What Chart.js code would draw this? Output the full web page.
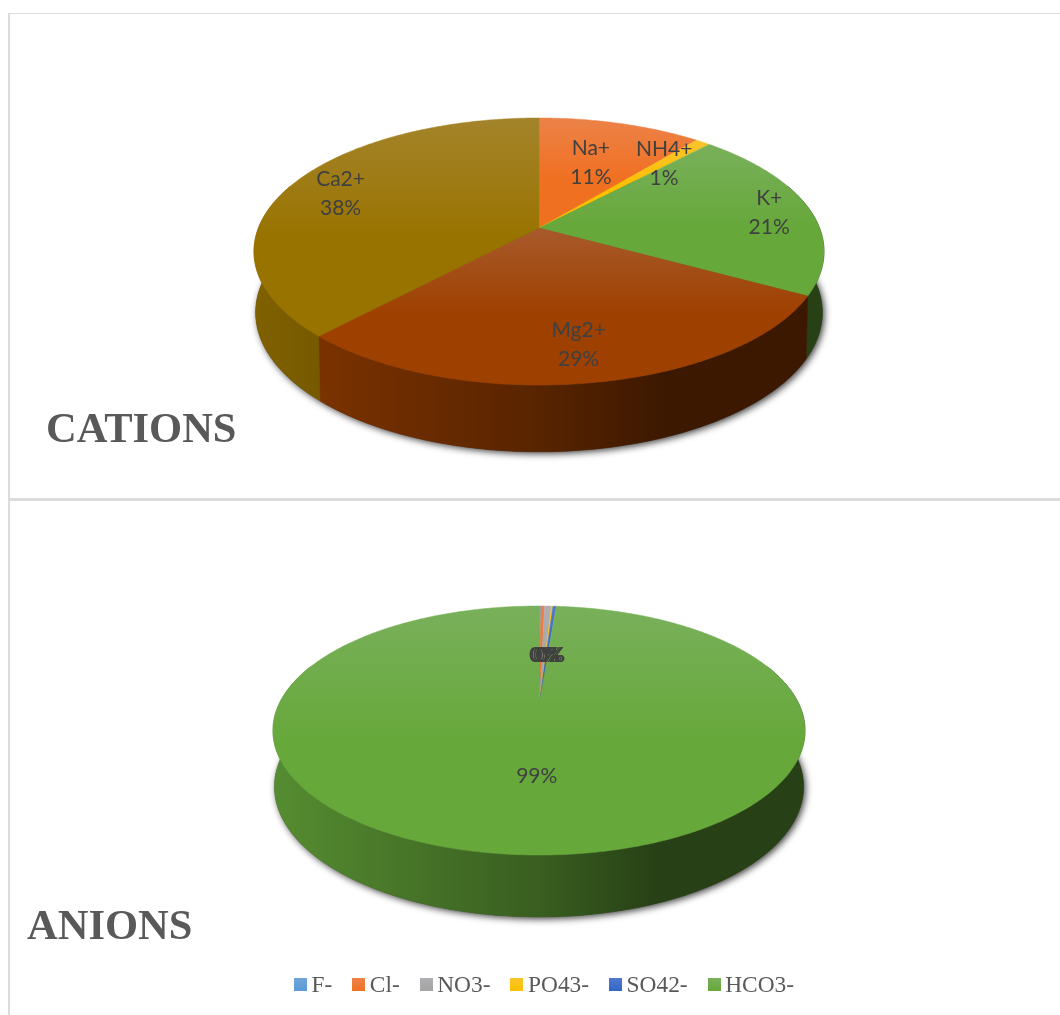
<!DOCTYPE html>
<html>
<head>
<meta charset="utf-8">
<title>Cations et anions</title>
<script src="https://cdn.jsdelivr.net/npm/chart.js@4"></script>
<style>
  html, body { margin: 0; padding: 0; background: #fff; width: 1060px; height: 1015px; overflow: hidden; }
  canvas { position: absolute; }
  .trait { position: absolute; background: #dcdcdc; }
  #legende { position: absolute; left: 294px; top: 970px; display: flex; gap: 20px; white-space: nowrap;
    font: 23.4px "Liberation Serif", serif; color: #595959; line-height: 28px; }
  #legende span { display: flex; align-items: center; }
  #legende i { display: block; width: 13px; height: 13px; margin-right: 4.5px; }
</style>
</head>
<body>
<div class="trait" style="left:8px;top:13px;width:1052px;height:1px"></div>
<div class="trait" style="left:8px;top:13px;width:2px;height:1002px"></div>
<div class="trait" style="left:8px;top:498px;width:1052px;height:3px"></div>
<canvas id="cations" width="1050" height="482" style="left:10px;top:15px"></canvas>
<canvas id="anions" width="1050" height="514" style="left:10px;top:501px"></canvas>
<div id="legende"></div>

<script>
// donnees
const cationLabels = ["Na+", "NH4+", "K+", "Mg2+", "Ca2+"];
const cationValues = [11, 1, 21, 29, 38];
const cationColors = ["#F07022", "#FFC000", "#66A83A", "#9E4000", "#997300"];

const anionLabels = ["F-", "Cl-", "NO3-", "PO43-", "SO42-", "HCO3-"];
const anionValues = [0.15, 0.27, 0.49, 0.12, 0.25, 98.72];
const anionColors = ["#5B9BD5", "#F07022", "#A5A5A5", "#FFC000", "#3366C4", "#66A83A"];

function hexToRgb(hex) {
  return [parseInt(hex.slice(1, 3), 16), parseInt(hex.slice(3, 5), 16), parseInt(hex.slice(5, 7), 16)];
}
function shade(hex, f) {
  const c = hexToRgb(hex);
  return "rgb(" + c.map(v => Math.round(v * f)).join(",") + ")";
}
// reflet du haut des faces, un peu froid comme dans l'original
function lighten(hex, a) {
  const c = hexToRgb(hex);
  const cible = [215, 215, 255];
  return "rgb(" + c.map((v, i) => Math.round(v + (cible[i] - v) * a)).join(",") + ")";
}

// projection en perspective d'un point du disque sur la toile
function project(g, th, f) {
  const d = 1 - g.k * f * Math.sin(th);
  return { x: g.cx + g.rx * f * Math.cos(th) / d, y: g.cy + g.ry * f * Math.sin(th) / d };
}
function rim(g, from, to) {
  const pts = [];
  const n = Math.max(2, Math.ceil(Math.abs(to - from) / 0.01));
  for (let i = 0; i <= n; i++) pts.push(project(g, from + (to - from) * i / n, 1));
  return pts;
}
function tracePath(ctx, pts) {
  ctx.beginPath();
  pts.forEach((p, i) => { if (i === 0) ctx.moveTo(p.x, p.y); else ctx.lineTo(p.x, p.y); });
  ctx.closePath();
}

// dessine le camembert 3D a partir des angles calcules par Chart.js
const pie3d = {
  id: "pie3d",
  beforeDatasetsDraw(chart, args, opts) {
    const ctx = chart.ctx;
    const arcs = chart.getDatasetMeta(0).data;
    const ds = chart.data.datasets[0];
    const top = opts.top, low = opts.low;
    const total = ds.data.reduce((a, b) => a + b, 0);
    const left = top.cx - top.rx - 10, right = top.cx + top.rx + 10;

    // ombre sous le disque
    ctx.save();
    ctx.shadowColor = "rgba(0,0,0,0.75)";
    ctx.shadowBlur = 7;
    ctx.shadowOffsetX = 2;
    ctx.shadowOffsetY = 2;
    ctx.fillStyle = "#444";
    tracePath(ctx, rim(low, 0, Math.PI * 2));
    ctx.fill();
    ctx.restore();

    // tranche : uniquement la moitie visible
    const a0 = -0.35, a1 = Math.PI + 0.35;
    arcs.forEach((arc, i) => {
      [-2, 0, 2].forEach(turn => {
        const from = Math.max(arc.startAngle + turn * Math.PI, a0);
        const to = Math.min(arc.endAngle + turn * Math.PI, a1);
        if (to <= from) return;
        const pts = rim(top, from, to).concat(rim(low, to, from));
        const grad = ctx.createLinearGradient(left, 0, right, 0);
        const col = ds.backgroundColor[i];
        grad.addColorStop(0, shade(col, 0.84));
        grad.addColorStop(0.5, shade(col, 0.56));
        grad.addColorStop(0.72, shade(col, 0.38));
        grad.addColorStop(1, shade(col, 0.38));
        ctx.fillStyle = grad;
        ctx.strokeStyle = grad;
        ctx.lineWidth = 0.5;
        tracePath(ctx, pts);
        ctx.fill();
        ctx.stroke();
      });
    });

    // face superieure
    arcs.forEach((arc, i) => {
      const pts = [{ x: top.cx, y: top.cy }].concat(rim(top, arc.startAngle, arc.endAngle));
      const ys = pts.map(p => p.y);
      const grad = ctx.createLinearGradient(0, Math.min(...ys), 0, Math.max(...ys));
      const col = ds.backgroundColor[i];
      grad.addColorStop(0, lighten(col, 0.17));
      grad.addColorStop(0.55, col);
      grad.addColorStop(1, col);
      ctx.fillStyle = grad;
      ctx.strokeStyle = grad;
      ctx.lineWidth = 0.5;
      tracePath(ctx, pts);
      ctx.fill();
      ctx.stroke();
    });

    // etiquettes
    ctx.save();
    ctx.font = '21px Lato, sans-serif';
    ctx.fillStyle = "#404040";
    ctx.textAlign = "center";
    ctx.textBaseline = "middle";
    arcs.forEach((arc, i) => {
      const mid = (arc.startAngle + arc.endAngle) / 2;
      const p = project(top, mid, opts.labelRadius[i]);
      const pct = Math.round(ds.data[i] / total * 100) + "%";
      if (opts.showName) {
        ctx.fillText(chart.data.labels[i], p.x + opts.labelDx, p.y - 13);
        ctx.fillText(pct, p.x + opts.labelDx, p.y + 16);
      } else {
        ctx.fillText(pct, p.x + opts.labelDx, p.y);
      }
    });
    ctx.restore();
    return false;
  }
};

function makePie(id, labels, values, colors, title, titleLeft, titleBottom, pieOpts) {
  new Chart(document.getElementById(id), {
    type: "pie",
    data: { labels: labels, datasets: [{ data: values, backgroundColor: colors, borderWidth: 0 }] },
    plugins: [pie3d],
    options: {
      responsive: false,
      animation: false,
      layout: { padding: { left: titleLeft } },
      plugins: {
        legend: { display: false },
        tooltip: { enabled: false },
        title: {
          display: true,
          text: title,
          position: "bottom",
          align: "start",
          color: "#595959",
          font: { family: '"Liberation Serif", serif', size: 42.5, weight: "bold" },
          padding: { top: 0, bottom: titleBottom }
        },
        pie3d: pieOpts
      }
    }
  });
}

makePie("cations", cationLabels, cationValues, cationColors, "CATIONS", 36, 40, {
  top: { cx: 529, cy: 213, rx: 280.6, ry: 129.4, k: 0.176 },
  low: { cx: 529, cy: 273, rx: 279, ry: 135, k: 0.176 },
  labelRadius: [0.6, 0.74, 0.85, 0.78, 0.8],
  labelDx: 0,
  showName: true
});

makePie("anions", anionLabels, anionValues, anionColors, "ANIONS", 17, 61, {
  top: { cx: 529, cy: 204, rx: 260.4, ry: 119.3, k: 0.205 },
  low: { cx: 529, cy: 259, rx: 259, ry: 124.8, k: 0.205 },
  labelRadius: [0.46, 0.46, 0.46, 0.46, 0.46, 0.53],
  labelDx: 4,
  showName: false
});

// legende du second graphique
const legende = document.getElementById("legende");
anionLabels.forEach((nom, i) => {
  const item = document.createElement("span");
  const carre = document.createElement("i");
  carre.style.background = "linear-gradient(" + lighten(anionColors[i], 0.17) + ", " + anionColors[i] + ")";
  item.appendChild(carre);
  item.appendChild(document.createTextNode(nom));
  legende.appendChild(item);
});
</script>
</body>
</html>
